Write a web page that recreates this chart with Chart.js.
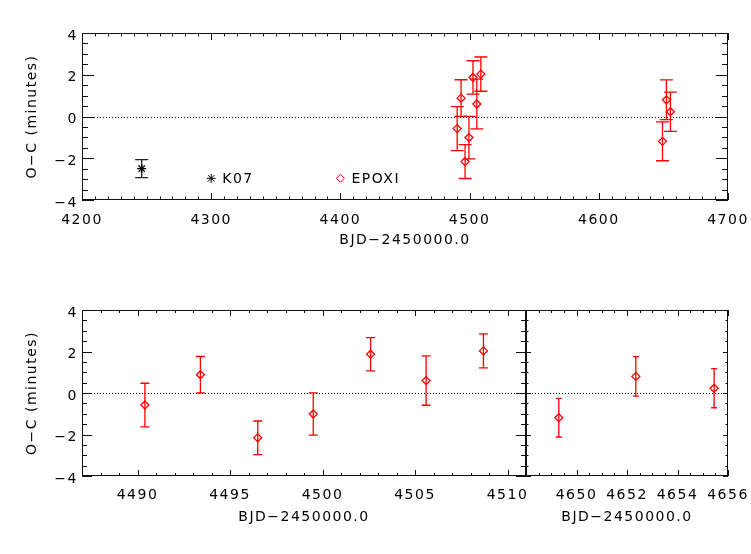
<!DOCTYPE html>
<html>
<head>
<meta charset="utf-8">
<script src="https://cdn.jsdelivr.net/npm/chart.js@4.4.0/dist/chart.umd.min.js"></script>
<style>
    body { margin: 0; background: #fff; width: 751px; height: 554px; position: relative; overflow: hidden; }
    canvas { position: absolute; }
</style>
</head>
<body>
<canvas id="topChart" width="751" height="260" style="left:0;top:0"></canvas>
<canvas id="zoomA" width="545" height="284" style="left:0;top:270px"></canvas>
<canvas id="zoomB" width="251" height="284" style="left:500px;top:270px"></canvas>
<script>
'use strict';

// --- Data ---
const epoxiTimes = [4490.4, 4493.4, 4496.5, 4499.5, 4502.6, 4505.6, 4508.7, 4649.3, 4652.35, 4655.45];
const epoxiOC    = [-0.58, 0.88, -2.16, -1.01, 1.87, 0.60, 2.03, -1.19, 0.80, 0.23];
const epoxiErr   = [1.05, 0.88, 0.81, 1.02, 0.80, 1.19, 0.82, 0.93, 0.95, 0.94];

const k07Times = [4246.2];
const k07OC    = [-2.5];
const k07Err   = [0.43];

const topXTicks   = [4200, 4300, 4400, 4500, 4600, 4700];
const zoomAXTicks = [4490, 4495, 4500, 4505, 4510];
const zoomBXTicks = [4650, 4652, 4654, 4656];
const ocTicks     = [-4, -2, 0, 2, 4];
const zeroLevel   = 0;

const xTitle = 'BJD\u22122450000.0';
const yTitle = 'O\u2212C (minutes)';
const RED = '#ff0000';

const font = { family: 'DejaVu Sans', size: 14 };
const fmt = v => (v < 0 ? '\u2212' + Math.abs(v) : String(v));

function toPoints(xs, ys, es) {
    return xs.map((x, i) => ({ x, y: ys[i], err: es[i] }));
}

// --- Plugins: IDL style box, inward ticks, dotted zero line, error bars ---
const idlBox = {
    id: 'idlBox',
    beforeDraw(chart) {
        chart.ctx.letterSpacing = '1.5px';
    },
    beforeDatasetsDraw(chart, args, opts) {
        const { ctx, chartArea: a, scales: { x, y } } = chart;
        ctx.save();
        ctx.beginPath();
        ctx.rect(a.left, a.top, a.right - a.left, a.bottom - a.top);
        ctx.clip();

        // zero line
        const zy = Math.round(y.getPixelForValue(zeroLevel)) + 0.5;
        ctx.strokeStyle = '#000';
        ctx.lineWidth = 1;
        ctx.setLineDash([1, 2]);
        ctx.beginPath();
        ctx.moveTo(a.left, zy);
        ctx.lineTo(a.right, zy);
        ctx.stroke();
        ctx.setLineDash([]);

        // error bars
        chart.data.datasets.forEach(ds => {
            ctx.strokeStyle = ds.errColor;
            ctx.lineWidth = 1.3;
            ds.data.forEach(p => {
                const px = x.getPixelForValue(p.x);
                const y1 = y.getPixelForValue(p.y + p.err);
                const y2 = y.getPixelForValue(p.y - p.err);
                const c = opts.cap;
                ctx.beginPath();
                ctx.moveTo(px, y1); ctx.lineTo(px, y2);
                ctx.moveTo(px - c, y1); ctx.lineTo(px + c, y1);
                ctx.moveTo(px - c, y2); ctx.lineTo(px + c, y2);
                ctx.stroke();
            });
        });
        ctx.restore();
    },
    afterDraw(chart, args, opts) {
        const { ctx, chartArea: a, scales: { x, y } } = chart;
        ctx.save();
        ctx.strokeStyle = '#111';
        ctx.lineWidth = 1;
        ctx.strokeRect(a.left + 0.5, a.top + 0.5, a.right - a.left - 1, a.bottom - a.top - 1);

        ctx.beginPath();
        const xTick = (v, len) => {
            const px = Math.round(x.getPixelForValue(v)) + 0.5;
            ctx.moveTo(px, a.bottom); ctx.lineTo(px, a.bottom - len);
            ctx.moveTo(px, a.top); ctx.lineTo(px, a.top + len);
        };
        const yTick = (v, len) => {
            const py = Math.round(y.getPixelForValue(v)) + 0.5;
            ctx.moveTo(a.left, py); ctx.lineTo(a.left + len, py);
            ctx.moveTo(a.right, py); ctx.lineTo(a.right - len, py);
        };
        const minors = (scale, step) => {
            const out = [];
            const n0 = Math.ceil(scale.min / step - 1e-9);
            const n1 = Math.floor(scale.max / step + 1e-9);
            for (let n = n0; n <= n1; n++) out.push(n * step);
            return out;
        };
        minors(x, opts.xMinor).forEach(v => xTick(v, opts.xLen / 2));
        opts.xMajor.forEach(v => xTick(v, opts.xLen));
        minors(y, opts.yMinor).forEach(v => yTick(v, opts.yLen / 2));
        ocTicks.forEach(v => yTick(v, opts.yLen));
        ctx.stroke();

        // legend inside the top panel
        if (opts.legend) {
            const w = a.right - a.left, h = a.bottom - a.top;
            const ly = a.top + h * 0.87;
            ctx.font = '14px "DejaVu Sans"';
            ctx.textBaseline = 'middle';
            opts.legend.forEach(item => {
                const lx = a.left + w * item.at;
                ctx.strokeStyle = item.color;
                ctx.fillStyle = 'rgba(0,0,0,0)';
                Chart.helpers.drawPoint(ctx, { pointStyle: item.style, radius: item.radius, borderWidth: 1.3, rotation: 0 }, lx, ly);
                ctx.fillStyle = '#000';
                ctx.fillText(item.label, lx + 11, ly + 1);
            });
        }
        ctx.restore();
    }
};

// --- Scale builders ---
function xAxis(min, max, ticks, height, labelPad, titlePad) {
    return {
        type: 'linear', min, max,
        afterBuildTicks: s => { s.ticks = ticks.map(v => ({ value: v })); },
        afterFit: s => { s.height = height; s.paddingLeft = 0; s.paddingRight = 0; },
        grid: { display: false, drawTicks: false },
        border: { display: false },
        ticks: { color: '#000', font, padding: labelPad, maxRotation: 0, autoSkip: false, callback: v => fmt(v) },
        title: { display: true, text: xTitle, color: '#000', font, padding: { top: 0, bottom: titlePad } }
    };
}

function yAxis(show) {
    return {
        type: 'linear', min: -4, max: 4, display: show,
        afterBuildTicks: s => { s.ticks = ocTicks.map(v => ({ value: v })); },
        afterFit: s => { s.width = show ? 82 : 0; s.paddingTop = 0; s.paddingBottom = 0; },
        grid: { display: false, drawTicks: false },
        border: { display: false },
        ticks: { color: '#000', font, padding: 4, labelOffset: 3, autoSkip: false, callback: v => fmt(v) },
        title: { display: true, text: yTitle, color: '#000', font, padding: { top: 24, bottom: 0 } }
    };
}

function epoxiSet() {
    return {
        label: 'EPOXI',
        data: toPoints(epoxiTimes, epoxiOC, epoxiErr),
        pointStyle: 'rectRot', pointRadius: 4, pointBorderWidth: 1.3,
        borderColor: RED, backgroundColor: 'rgba(0,0,0,0)', errColor: RED
    };
}

function k07Set() {
    return {
        label: 'K07',
        data: toPoints(k07Times, k07OC, k07Err),
        pointStyle: 'star', pointRadius: 4.5, pointBorderWidth: 1.3,
        borderColor: '#000', backgroundColor: 'rgba(0,0,0,0)', errColor: '#222'
    };
}

function makeChart(id, datasets, scales, padding, box) {
    return new Chart(document.getElementById(id), {
        type: 'scatter',
        data: { datasets },
        options: {
            responsive: false, animation: false,
            layout: { padding },
            scales,
            plugins: { legend: { display: false }, tooltip: { enabled: false }, idlBox: box }
        },
        plugins: [idlBox]
    });
}

// --- Charts ---
makeChart('topChart', [k07Set(), epoxiSet()],
    { x: xAxis(4200, 4700, topXTicks, 60, 12, 11), y: yAxis(true) },
    { top: 33, right: 23, left: 0, bottom: 0 },
    {
        cap: 6.5, xMajor: topXTicks, xMinor: 10, xLen: 7, yMinor: 0.5, yLen: 12,
        legend: [
            { label: 'K07', style: 'star', radius: 4.5, color: '#000', at: 0.2 },
            { label: 'EPOXI', style: 'rectRot', radius: 4, color: RED, at: 0.4 }
        ]
    });

makeChart('zoomA', [epoxiSet()],
    { x: xAxis(4487, 4511, zoomAXTicks, 78, 11, 28), y: yAxis(true) },
    { top: 40, right: 19, left: 0, bottom: 0 },
    { cap: 4.5, xMajor: zoomAXTicks, xMinor: 1, xLen: 6, yMinor: 0.5, yLen: 10 });

makeChart('zoomB', [epoxiSet()],
    { x: xAxis(4648, 4656, zoomBXTicks, 78, 11, 28), y: yAxis(false) },
    { top: 40, right: 23, left: 26, bottom: 0 },
    { cap: 3, xMajor: zoomBXTicks, xMinor: 0.5, xLen: 6, yMinor: 0.5, yLen: 5 });
</script>
</body>
</html>
